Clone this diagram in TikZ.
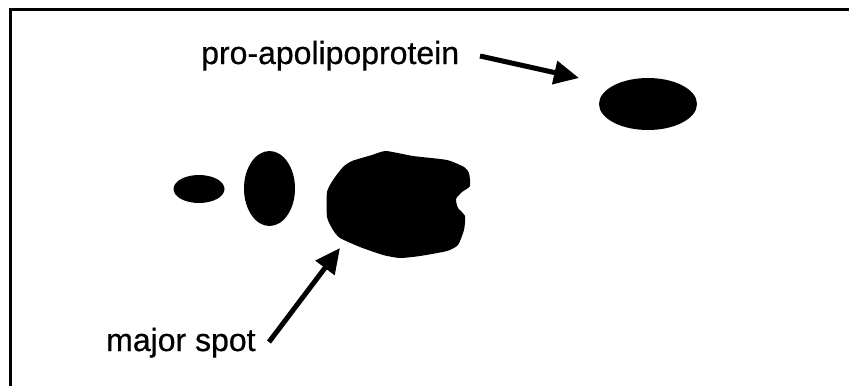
\documentclass[tikz,border=0pt]{standalone}
\usepackage{fontspec}
\setmainfont{Liberation Sans}
\newfontfamily\lblfont[FakeBold=0.6]{Liberation Sans}
\usetikzlibrary{arrows.meta,shapes.geometric}
\begin{document}
\begin{tikzpicture}[x=1pt,y=-1pt,
  spot/.style={ellipse,fill=black,draw=none,inner sep=0pt},
  lbl/.style={anchor=base west,inner sep=0pt,font=\lblfont\fontsize{32}{38}\selectfont},
  pointer/.style={line width=5pt,-{Triangle[length=25pt,width=23pt]}},
  frameline/.style={line width=3pt}]
\useasboundingbox (0,0) rectangle (849,386);
% frame
\draw[frameline] (10.5,386) -- (10.5,9.5) -- (849,9.5);
% spots
\node[spot,minimum width=98pt,minimum height=52pt] (pro) at (648,104) {};
\node[spot,minimum width=51pt,minimum height=28pt] (small) at (199,189) {};
\node[spot,minimum width=51pt,minimum height=75pt] (tall) at (269.5,188.5) {};
\fill[black] plot[smooth cycle,tension=0.35] coordinates {
 (386,151) (413,156) (447,160) (464,167) (469,173) (470,186) (462,192)
 (456,199) (458,208) (465,216) (464,230) (458,245) (447,251) (420,256)
 (400,258) (383,255) (360,247) (340,238) (333,230) (327,217) (327,192)
 (333,180) (343,167) (352,161) (372,155)};
\coordinate (major) at (340,248);
% labels
\node[lbl] (prolbl) at (201,64) {pro-apolipoprotein};
\node[lbl] (majlbl) at (106,351) {major spot};
% arrows
\coordinate (protail) at (480,56);
\coordinate (protip) at (579,78);
\coordinate (majtail) at (269,342);
\draw[pointer] (protail) -- (protip);
\draw[pointer] (majtail) -- (major);
\end{tikzpicture}
\end{document}
